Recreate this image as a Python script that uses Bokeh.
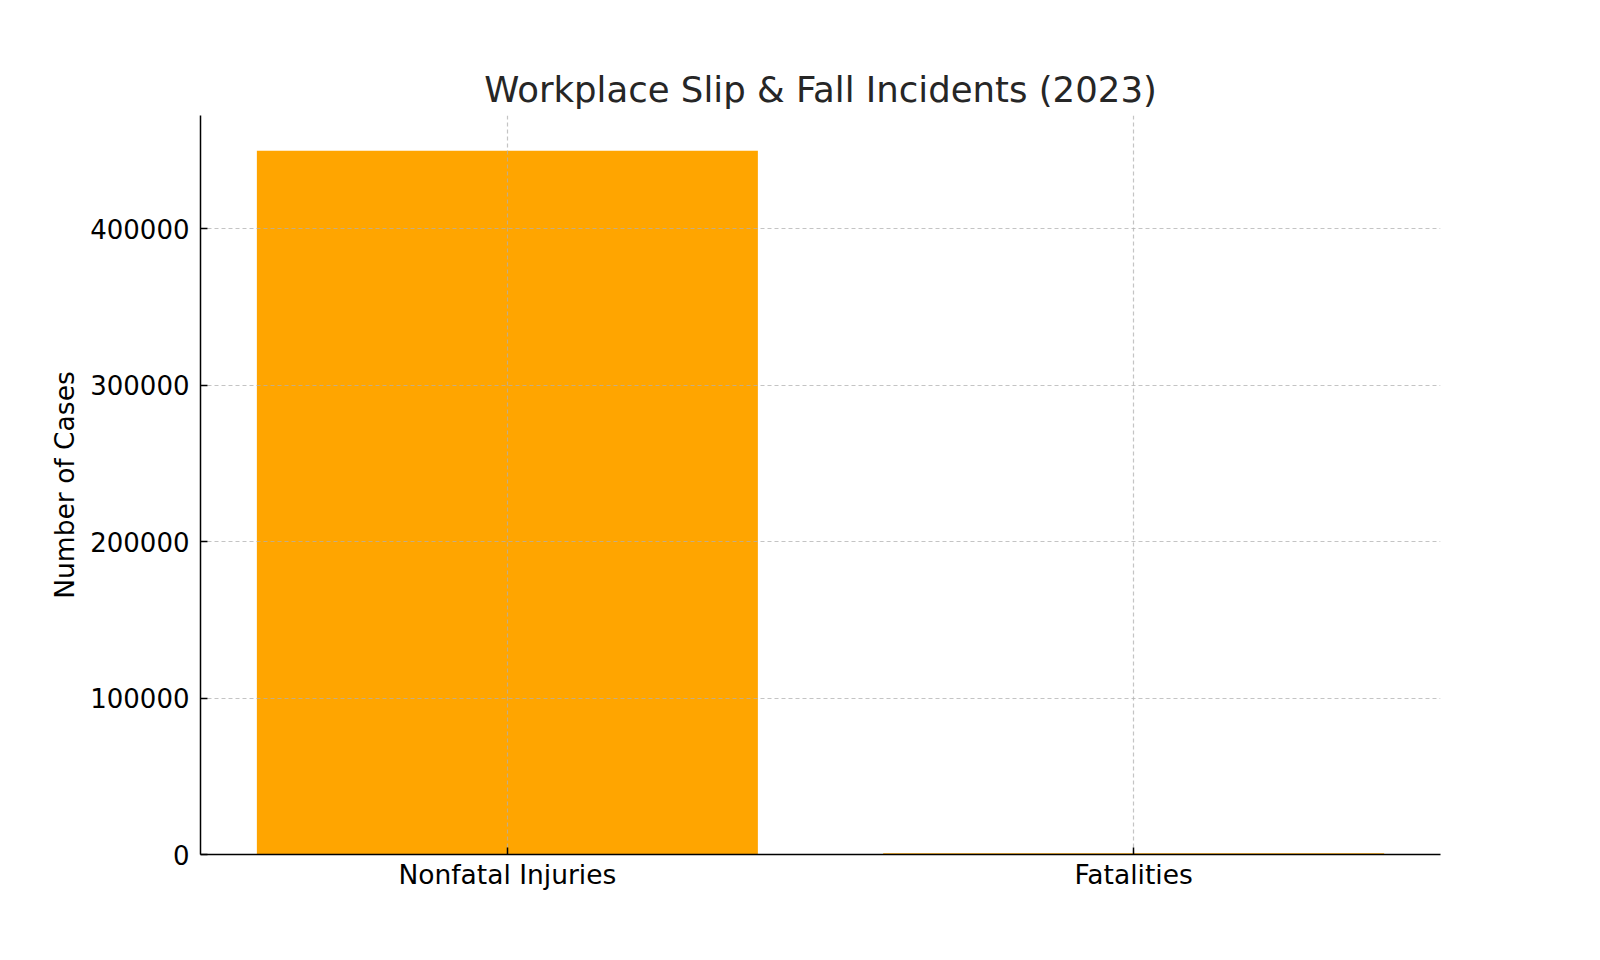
from bokeh.plotting import figure
from bokeh.models import FactorRange, Range1d, FixedTicker, BasicTickFormatter
from bokeh.embed import file_html
from bokeh.resources import INLINE

categories = ["Nonfatal Injuries", "Fatalities"]
cases = [450000, 865]
y_ticks = [0, 100000, 200000, 300000, 400000]

FONT = "DejaVu Sans"

p = figure(
    width=1584, height=944,
    x_range=FactorRange(factors=categories, range_padding=-0.01),
    y_range=Range1d(0, 472500),
    output_backend="svg", toolbar_location=None,
    title="Workplace Slip & Fall Incidents (2023)",
    min_border_left=200, min_border_right=144, min_border_top=115, min_border_bottom=90,
)

p.vbar(x=categories, top=cases, width=0.8, color="#FFA500", line_color=None)

# dashed grid drawn over the bars
grid_kw = dict(line_color="#b0b0b0", line_alpha=0.75, line_dash="4 3", line_width=1.2)
p.hspan(y=y_ticks[1:], **grid_kw)
p.vspan(x=categories, **grid_kw)
p.xgrid.visible = False
p.ygrid.visible = False

p.title.align = "center"
p.title.text_font = FONT
p.title.text_font_size = "35.5px"
p.title.text_font_style = "normal"
p.title.text_color = "#262626"
p.title.standoff = 12

p.outline_line_color = None
p.background_fill_color = "white"
p.border_fill_color = "white"

for ax in (p.xaxis, p.yaxis):
    ax.axis_line_color = "black"
    ax.axis_line_width = 1.5
    ax.major_tick_line_color = "black"
    ax.major_tick_line_width = 1.5
    ax.major_tick_in = 7
    ax.major_tick_out = 0
    ax.minor_tick_line_color = None
    ax.major_label_text_font = FONT
    ax.major_label_text_color = "black"

p.xaxis.major_label_text_font_size = "26.5px"
p.yaxis.major_label_text_font_size = "26px"
p.xaxis.major_label_standoff = 4
p.yaxis.major_label_standoff = 11
p.yaxis.ticker = FixedTicker(ticks=y_ticks)
p.yaxis.formatter = BasicTickFormatter(use_scientific=False)
p.yaxis.axis_label = "Number of Cases"
p.yaxis.axis_label_text_font = FONT
p.yaxis.axis_label_text_font_size = "26.5px"
p.yaxis.axis_label_text_font_style = "normal"
p.yaxis.axis_label_text_color = "black"
p.yaxis.axis_label_standoff = 7

open("out.html", "w").write(file_html(p, INLINE))
